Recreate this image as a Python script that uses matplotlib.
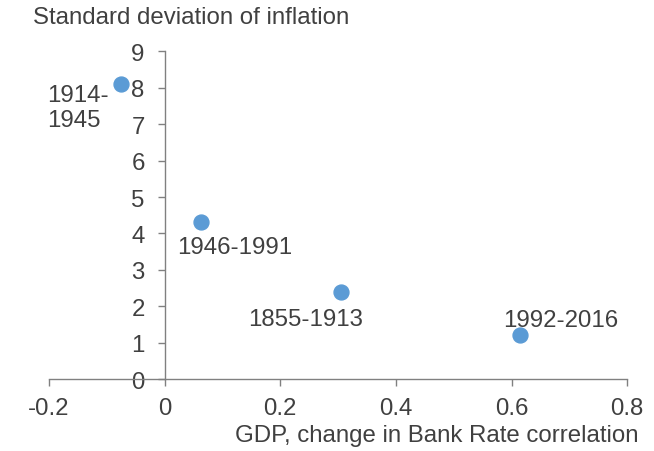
import matplotlib.pyplot as plt

# correlation of GDP and change in Bank Rate, std dev of inflation
periods = ['1914-\n1945', '1946-1991', '1855-1913', '1992-2016']
corr = [-0.075, 0.063, 0.305, 0.615]
infl_sd = [8.1, 4.32, 2.38, 1.2]

plt.rcParams['font.family'] = ['Liberation Sans', 'DejaVu Sans']
txt = '#404040'
blue = '#5B9BD5'
fs = 17.3

fig = plt.figure(figsize=(6.54, 4.52), dpi=100)
ax = fig.add_axes([0.075, 0.159, 0.884, 0.725])

ax.scatter(corr, infl_sd, s=115, color=blue, zorder=3, clip_on=False)

# label positions (offsets in points from each marker)
offsets = [(-9.4, 0), (24.5, -10), (-25.5, -11), (28.8, 6.5)]
aligns = [('right', 'top'), ('center', 'top'), ('center', 'top'), ('center', 'baseline')]
for p, x, y, off, al in zip(periods, corr, infl_sd, offsets, aligns):
    ax.annotate(p, (x, y), xytext=off, textcoords='offset points',
                ha=al[0], va=al[1], multialignment='left',
                fontsize=fs, color=txt, linespacing=1.14)

ax.set_xlim(-0.2, 0.8)
ax.set_ylim(0, 9)
ax.set_xticks([-0.2, 0, 0.2, 0.4, 0.6, 0.8])
ax.set_xticklabels(['-0.2', '0', '0.2', '0.4', '0.6', '0.8'])
ax.set_yticks(range(10))

ax.spines['left'].set_position(('data', 0))
ax.spines['bottom'].set_position(('data', 0))
ax.spines['top'].set_visible(False)
ax.spines['right'].set_visible(False)
for s in ['left', 'bottom']:
    ax.spines[s].set_color('#808080')
    ax.spines[s].set_linewidth(1.0)

ax.tick_params(axis='both', colors='#808080', labelcolor=txt, labelsize=fs,
               length=5, width=1.0, direction='out')
ax.tick_params(axis='x', pad=8)
ax.tick_params(axis='y', pad=9.4)

fig.text(0.05, 0.96, 'Standard deviation of inflation', fontsize=fs, color=txt,
         ha='left', va='center')
fig.text(0.976, 0.035, 'GDP, change in Bank Rate correlation', fontsize=fs,
         color=txt, ha='right', va='center')

fig.savefig('out.png', dpi=100)
